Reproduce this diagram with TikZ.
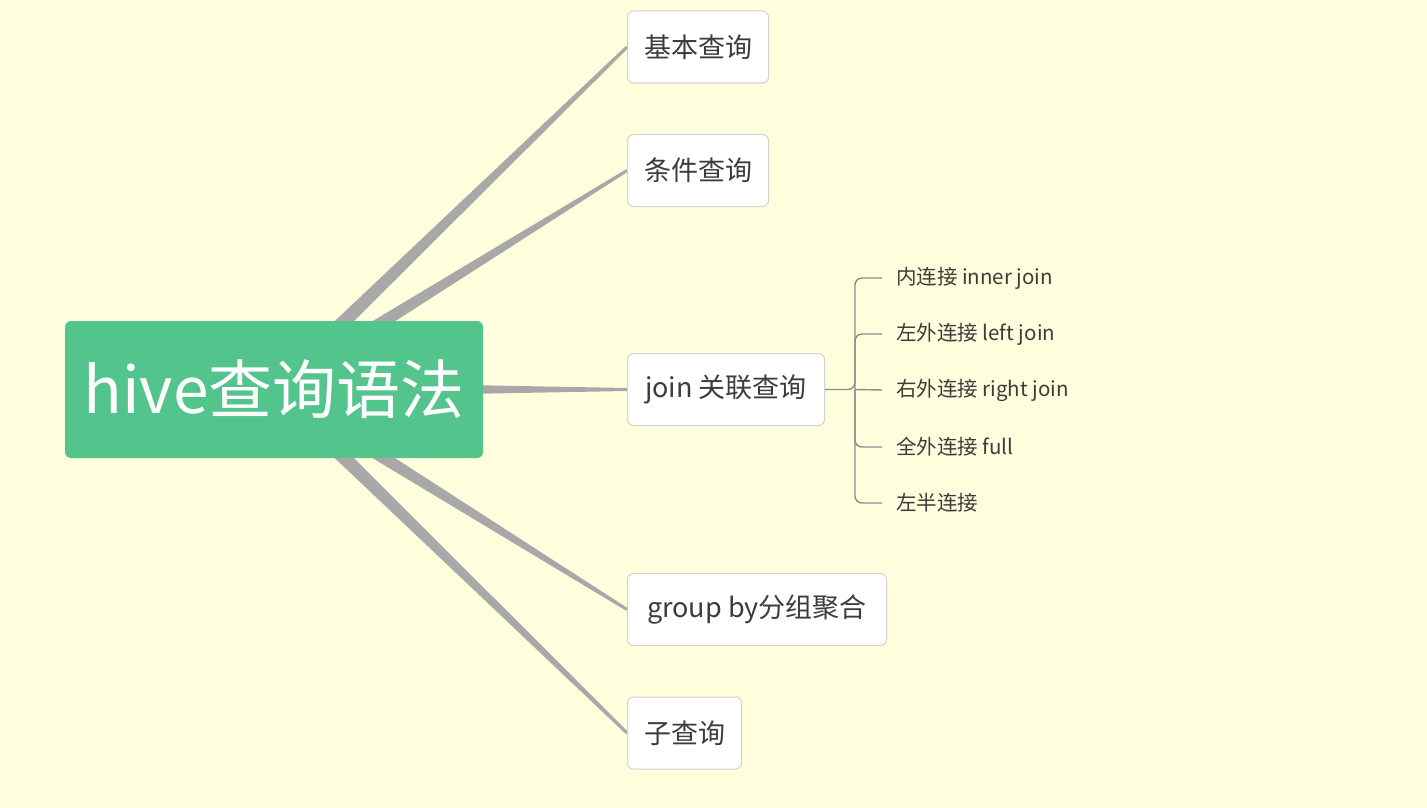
\documentclass[tikz,border=0pt]{standalone}
\usepackage{fontspec}
\setmainfont{Noto Sans CJK SC}
\usetikzlibrary{calc}
\definecolor{bg}{HTML}{FFFFDD}
\definecolor{rootgreen}{HTML}{52C48C}
\definecolor{conngray}{HTML}{A8A8A8}
\definecolor{boxborder}{HTML}{D2D2D2}
\definecolor{txt}{HTML}{3C3C3C}
\definecolor{bracket}{HTML}{8C8C8C}
\pgfdeclarelayer{bgfill}
\pgfdeclarelayer{connlayer}
\pgfsetlayers{bgfill,connlayer,main}
\newcommand\taperline[4]{%
  \fill[conngray] ($(#1)!#3!90:(#2)$) -- ($(#2)!#4!-90:(#1)$) -- ($(#2)!#4!90:(#1)$) -- ($(#1)!#3!-90:(#2)$) -- cycle;}
\begin{document}
\begin{tikzpicture}[x=1pt,y=-1pt,
  rootbox/.style={fill=rootgreen, rounded corners=6pt, minimum width=418pt, minimum height=137pt,
    text=white, font=\fontsize{64}{70}\selectfont, inner sep=0pt},
  topicbox/.style={fill=white, draw=boxborder, line width=1pt, rounded corners=6pt, anchor=west,
    minimum height=72pt, inner xsep=0pt, text=txt, font=\fontsize{27}{30}\selectfont},
  leaf/.style={anchor=west, inner xsep=14pt, inner ysep=2pt, text=txt, font=\fontsize{20.5}{24}\selectfont},
  brk/.style={draw=bracket, line width=1.4pt, rounded corners=7pt}]
\begin{pgfonlayer}{bgfill}
\fill[bg] (0,0) rectangle (1427,808);
\end{pgfonlayer}
\useasboundingbox (0,0) rectangle (1427,808);

% root
\node[rootbox] (root) at (274,389.5) {hive查询语法};

% topics
\node[topicbox, minimum width=141pt] (t1) at (627,47) {基本查询};
\node[topicbox, minimum width=141pt] (t2) at (627,170.5) {条件查询};
\node[topicbox, minimum width=197pt] (t3) at (627,389.5) {join 关联查询};
\node[topicbox, minimum width=259pt] (t4) at (627,609.5) {group by分组聚合};
\node[topicbox, minimum width=114pt] (t5) at (627,733) {子查询};

% tapered connectors behind nodes
\begin{pgfonlayer}{connlayer}
\taperline{root.center}{t1.west}{8pt}{1.5pt}
\taperline{root.center}{t2.west}{8pt}{1.5pt}
\taperline{root.center}{t3.west}{8pt}{1.5pt}
\taperline{root.center}{t4.west}{8pt}{1.5pt}
\taperline{root.center}{t5.west}{8pt}{1.5pt}
\end{pgfonlayer}

% join sub-items
\node[leaf] (j1) at (882,278) {内连接 inner join};
\node[leaf] (j2) at (882,334) {左外连接 left join};
\node[leaf] (j3) at (882,390) {右外连接 right join};
\node[leaf] (j4) at (882,447) {全外连接 full};
\node[leaf] (j5) at (882,503) {左半连接};
\coordinate (jb) at (855,389.5);
\draw[brk] (t3.east) -- (jb) |- (j1.west);
\draw[brk] (jb) |- (j2.west);
\draw[brk] (jb) -- (j3.west);
\draw[brk] (jb) |- (j4.west);
\draw[brk] (jb) |- (j5.west);
\end{tikzpicture}
\end{document}
